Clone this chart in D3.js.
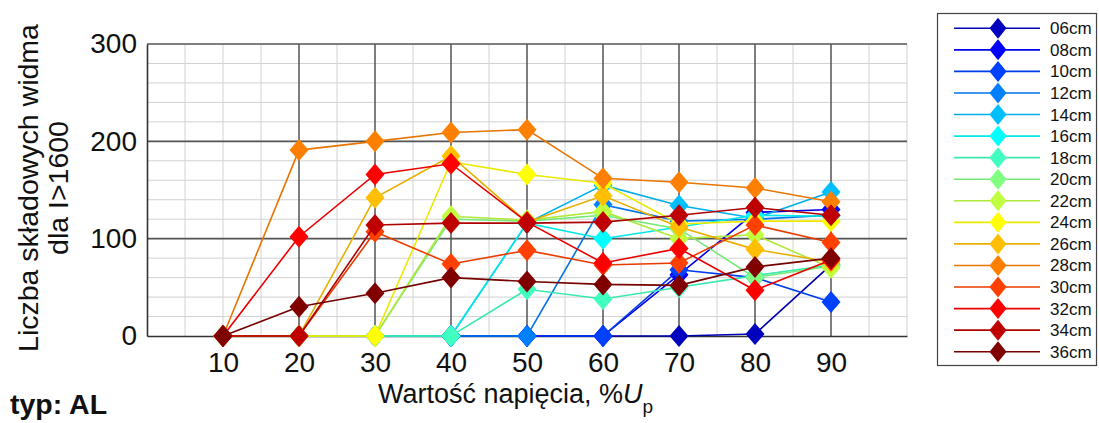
<!DOCTYPE html>
<html>
<head>
<meta charset="utf-8">
<script src="https://cdn.jsdelivr.net/npm/d3@7"></script>
<style>
  body { margin: 0; background: #fff; }
  svg { display: block; }
  text { font-family: "Liberation Sans", Arial, sans-serif; fill: #111; }
</style>
</head>
<body>
<svg id="chart" width="1099" height="423"></svg>
<script>
// Voltage steps (% of Up) and number of spectrum components per electrode gap
const voltages = [10, 20, 30, 40, 50, 60, 70, 80, 90];
const seriesNames = ["06cm", "08cm", "10cm", "12cm", "14cm", "16cm", "18cm", "20cm",
                     "22cm", "24cm", "26cm", "28cm", "30cm", "32cm", "34cm", "36cm"];

const s06 = [0, 0, 0, 0, 0, 0, 0, 2, 73];
const s08 = [0, 0, 0, 0, 0, 0, 63, 127, 130];
const s10 = [0, 0, 0, 0, 0, 0, 68, 60, 35];
const s12 = [0, 0, 0, 0, 0, 135, 118, 120, 124];
const s14 = [0, 0, 0, 0, 116, 155, 134, 121, 148];
const s16 = [0, 0, 0, 0, 116, 100, 112, 124, 123];
const s18 = [0, 0, 0, 0, 48, 38, 50, 62, 73];
const s20 = [0, 0, 0, 120, 118, 124, 110, 60, 72];
const s22 = [0, 0, 0, 123, 119, 128, 100, 104, 70];
const s24 = [0, 0, 0, 179, 166, 157, 115, 118, 118];
const s26 = [0, 0, 142, 185, 117, 144, 112, 89, 76];
const s28 = [0, 191, 200, 209, 212, 162, 158, 152, 138];
const s30 = [0, 0, 107, 74, 88, 73, 75, 114, 96];
const s32 = [0, 102, 166, 177, 117, 75, 90, 47, 78];
const s34 = [0, 0, 114, 116, 116, 117, 124, 132, 124];
const s36 = [0, 30, 44, 60, 56, 53, 52, 71, 80];
const seriesValues = [s06, s08, s10, s12, s14, s16, s18, s20, s22, s24, s26, s28, s30, s32, s34, s36];

// jet colormap, 16 steps
const seriesColors = ["#0000bf", "#0000ff", "#0040ff", "#0080ff", "#00bfff", "#00ffff",
                      "#40ffbf", "#80ff80", "#bfff40", "#ffff00", "#ffbf00", "#ff8000",
                      "#ff4000", "#ff0000", "#bf0000", "#800000"];

const xTicks = [10, 20, 30, 40, 50, 60, 70, 80, 90];
const yTicks = [0, 100, 200, 300];

const svg = d3.select("#chart");

const plot = { left: 147, right: 907, top: 44, bottom: 336 };
const x = d3.scaleLinear().domain([0, 100]).range([plot.left, plot.right]);
const y = d3.scaleLinear().domain([0, 300]).range([plot.bottom, plot.top]);

// light grid: every 5 on x, every 20 on y
const gridLight = svg.append("g");
gridLight.selectAll("line.vx")
  .data(d3.range(5, 101, 5))
  .join("line")
  .attr("x1", d => x(d)).attr("x2", d => x(d))
  .attr("y1", plot.top).attr("y2", plot.bottom)
  .attr("stroke", "#d2d2d2").attr("stroke-width", 1);
gridLight.selectAll("line.hy")
  .data(d3.range(20, 300, 20))
  .join("line")
  .attr("x1", plot.left).attr("x2", plot.right)
  .attr("y1", d => y(d)).attr("y2", d => y(d))
  .attr("stroke", "#d2d2d2").attr("stroke-width", 1);

// dark major grid
const gridDark = svg.append("g");
gridDark.selectAll("line.vx")
  .data(d3.range(20, 91, 10))
  .join("line")
  .attr("x1", d => x(d)).attr("x2", d => x(d))
  .attr("y1", plot.top).attr("y2", plot.bottom)
  .attr("stroke", "#444").attr("stroke-width", 1.3);
gridDark.selectAll("line.hy")
  .data([100, 200, 300])
  .join("line")
  .attr("x1", plot.left).attr("x2", plot.right)
  .attr("y1", d => y(d)).attr("y2", d => y(d))
  .attr("stroke", "#555").attr("stroke-width", 1.6);

// axes
const xAxis = d3.axisBottom(x).tickValues(xTicks).tickSize(0).tickPadding(16);
const gx = svg.append("g").attr("transform", `translate(0,${plot.bottom})`).call(xAxis);
gx.select(".domain").attr("stroke", "#333").attr("stroke-width", 1.6);
gx.selectAll("text").attr("font-size", 28).attr("fill", "#111")
  .attr("font-family", "'Liberation Sans', Arial, sans-serif");

const yAxis = d3.axisLeft(y).tickValues(yTicks).tickSize(0).tickPadding(10);
const gy = svg.append("g").attr("transform", `translate(${plot.left},0)`).call(yAxis);
gy.select(".domain").attr("stroke", "#333").attr("stroke-width", 1.6);
gy.selectAll("text").attr("font-size", 28).attr("fill", "#111")
  .attr("font-family", "'Liberation Sans', Arial, sans-serif");

// series: line then diamonds, each series drawn in turn
const diamond = (hw, hh) => `M0,${-hh}L${hw},0L0,${hh}L${-hw},0Z`;
const line = d3.line().x((d, i) => x(voltages[i])).y(d => y(d));

seriesValues.forEach((vals, k) => {
  const g = svg.append("g");
  const col = seriesColors[k];
  g.append("path")
    .attr("d", line(vals))
    .attr("fill", "none")
    .attr("stroke", d3.color(col).darker(0.25))
    .attr("stroke-width", 1.6);
  g.selectAll("path.m")
    .data(vals)
    .join("path")
    .attr("transform", (d, i) => `translate(${x(voltages[i])},${y(d)})`)
    .attr("d", diamond(9.5, 11))
    .attr("fill", col);
});

// axis titles
const yl = svg.append("text")
  .attr("transform", "translate(38,188) rotate(-90)")
  .attr("text-anchor", "middle")
  .attr("font-size", 28.5);
yl.append("tspan").attr("x", 0).attr("y", 0).text("Liczba składowych widma");
yl.append("tspan").attr("x", 0).attr("y", 30).text("dla I>1600");

const xl = svg.append("text")
  .attr("x", 378).attr("y", 403)
  .attr("font-size", 27);
xl.append("tspan").text("Wartość napięcia, %");
xl.append("tspan").attr("font-style", "italic").text("U");
xl.append("tspan").attr("font-size", 19).attr("dy", 10).text("p");

svg.append("text")
  .attr("x", 10).attr("y", 414)
  .attr("font-size", 28.5).attr("font-weight", "bold")
  .text("typ: AL");

// legend
const lg = svg.append("g");
lg.append("rect")
  .attr("x", 937.5).attr("y", 13.5).attr("width", 159).attr("height", 352)
  .attr("fill", "#fff").attr("stroke", "#444").attr("stroke-width", 1.2);
const rowY = i => 28.3 + i * 21.56;
seriesNames.forEach((name, i) => {
  const col = seriesColors[i];
  lg.append("line")
    .attr("x1", 954).attr("x2", 1040)
    .attr("y1", rowY(i)).attr("y2", rowY(i))
    .attr("stroke", d3.color(col).darker(0.25)).attr("stroke-width", 1.6);
  lg.append("path")
    .attr("transform", `translate(998,${rowY(i)})`)
    .attr("d", diamond(8.5, 10.5))
    .attr("fill", col);
  lg.append("text")
    .attr("x", 1050).attr("y", rowY(i) + 6)
    .attr("font-size", 17)
    .text(name);
});
</script>
</body>
</html>
